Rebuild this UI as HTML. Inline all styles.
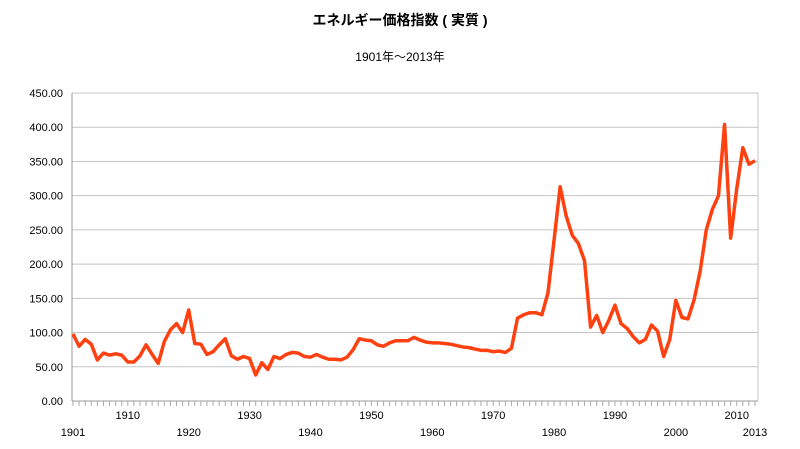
<!DOCTYPE html>
<html><head><meta charset="utf-8"><style>
body{margin:0;background:#fff;}
svg{display:block;font-family:"Liberation Sans","Noto Sans CJK JP",sans-serif;}
</style></head><body>
<svg id="chart" width="800" height="449">
<text x="400" y="25" text-anchor="middle" font-size="14" font-weight="bold">エネルギー価格指数 ( 実質 )</text>
<text x="400" y="61" text-anchor="middle" font-size="12">1901年～2013年</text>
<g id="grid"></g><g id="axes"></g><g id="series"></g>
</svg>
<script>
const years=[];for(let y=1901;y<=2013;y++)years.push(y);
const values=[98,80,90,83,60,70,67,69,67,57,57,66,82,68,55,87,104,113,100,133,84,83,68,72,82,91,66,61,65,62,38,56,46,65,62,68,71,70,65,64,68,64,61,61,60,64,75,91,89,88,82,80,85,88,88,88,93,89,86,85,85,84,83,81,79,78,76,74,74,72,73,71,77,121,126,129,129,126,158,235,313,270,242,230,205,108,125,100,118,140,113,106,94,85,90,111,102,65,90,147,122,120,148,190,250,280,300,404,238,310,370,346,351];
const yTicks=[0,50,100,150,200,250,300,350,400,450];
const xLabelsUpper=[1910,1930,1950,1970,1990,2010];
const xLabelsLower=[1901,1920,1940,1960,1980,2000,2013];
const NS='http://www.w3.org/2000/svg';
const X0=72,X1=758,Y0=401,Y1=93;
const x=yr=>73+(yr-1901)*(X1-3-73)/(2013-1901);
const y=v=>Y0-(v/450)*(Y0-Y1);
function mk(t,a,p){const e=document.createElementNS(NS,t);for(const k in a)e.setAttribute(k,a[k]);p.appendChild(e);return e;}
const grid=document.getElementById('grid'),axes=document.getElementById('axes'),ser=document.getElementById('series');
yTicks.forEach(v=>{
 const l=mk('line',{x1:X0,x2:X1,y1:y(v),y2:y(v),stroke:v===0?'#999':'#c4c4c4','stroke-width':1},grid);
 
 
 const t=mk('text',{x:63,y:y(v)+4,'text-anchor':'end','font-size':11},axes);
 t.textContent=v.toFixed(2);
 
 
});
const ax=mk('line',{x1:X0,x2:X0,y1:Y1,y2:Y0,stroke:'#999'},axes);


const ax2=mk('line',{x1:X1,x2:X1,y1:Y1,y2:Y0,stroke:'#c4c4c4'},axes);


years.forEach(yr=>{
 const tk=mk('line',{x1:x(yr),x2:x(yr),y1:Y0,y2:Y0+5,stroke:'#aaa'},axes);
 
 
});
xLabelsUpper.forEach(yr=>{
 const t=mk('text',{x:x(yr),y:419,'text-anchor':'middle','font-size':11},axes);
 t.textContent=yr;
 
 
});
xLabelsLower.forEach(yr=>{
 const t=mk('text',{x:x(yr),y:436,'text-anchor':'middle','font-size':11},axes);
 t.textContent=yr;
 
 
});
const pl=mk('polyline',{points:years.map((yr,i)=>x(yr)+','+y(values[i])).join(' '),fill:'none',stroke:'#ff4010','stroke-width':3.5,'stroke-linejoin':'round'},ser);


</script>
</body></html>
